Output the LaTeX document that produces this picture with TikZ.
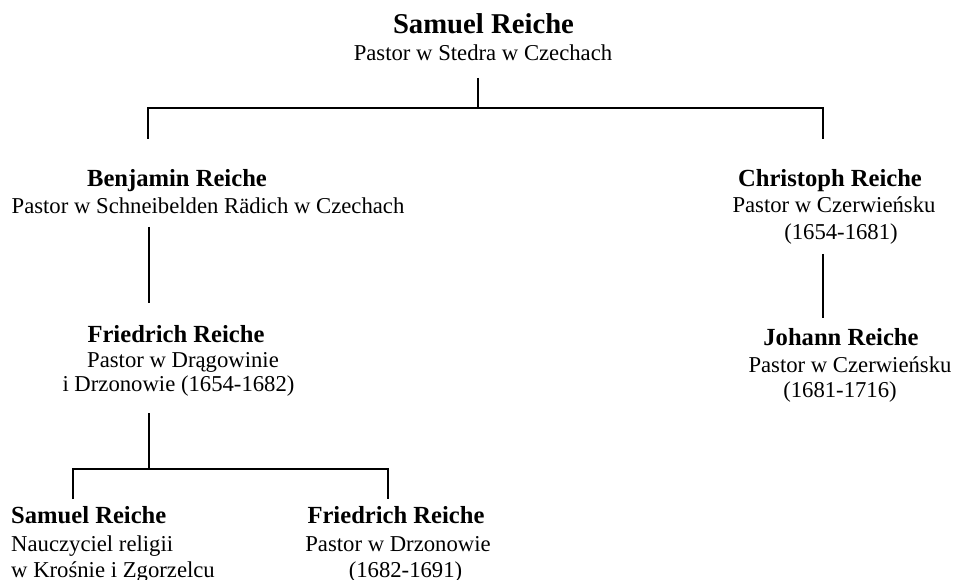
\documentclass[tikz,border=0pt]{standalone}
\usepackage{fontspec}
\setmainfont{Liberation Serif}
\begin{document}
\begin{tikzpicture}[x=1pt,y=-1pt,
  topname/.style={font=\fontsize{28.7}{32}\selectfont\bfseries, inner sep=0pt, anchor=base},
  pname/.style={font=\fontsize{24.6}{28}\selectfont\bfseries, inner sep=0pt, anchor=base},
  psub/.style={font=\fontsize{22.7}{26}\selectfont, inner sep=0pt, anchor=base},
  lname/.style={pname, anchor=base west},
  lsub/.style={psub, anchor=base west},
  conn/.style={line width=1.3pt, black}]
\useasboundingbox (0,0) rectangle (956,580);
% top
\node[topname] (sr) at (483.5,34) {Samuel Reiche};
\node[psub] (srs) at (483,61) {Pastor w Stedra w Czechach};
% Benjamin
\node[pname] (br) at (177,187) {Benjamin Reiche};
\node[psub] (brs) at (208,214) {Pastor w Schneibelden Rädich w Czechach};
% Friedrich 1
\node[pname] (fr) at (176,342) {Friedrich Reiche};
\node[psub] (frs1) at (183,367) {Pastor w Drągowinie};
\node[psub] (frs2) at (178.5,391) {i Drzonowie (1654-1682)};
% Samuel 2
\node[lname] (s2) at (11,523) {Samuel Reiche};
\node[lsub] (s2a) at (11,551) {Nauczyciel religii};
\node[lsub] (s2b) at (11,577) {w Krośnie i Zgorzelcu};
% Friedrich 2
\node[pname] (f2) at (396,523) {Friedrich Reiche};
\node[psub] (f2a) at (398,551) {Pastor w Drzonowie};
\node[psub] (f2b) at (405.5,577) {(1682-1691)};
% Christoph
\node[pname] (cr) at (830,187) {Christoph Reiche};
\node[psub] (cra) at (834,213) {Pastor w Czerwieńsku};
\node[psub] (crb) at (841,240) {(1654-1681)};
% Johann
\node[pname] (jr) at (841,345) {Johann Reiche};
\node[psub] (jra) at (850,372) {Pastor w Czerwieńsku};
\node[psub] (jrb) at (840,397) {(1681-1716)};
% connector points
\coordinate (ta) at (478,78);
\coordinate (tb) at (478,108);
\coordinate (hl) at (148,108);
\coordinate (hr) at (823,108);
\coordinate (dl) at (148,139);
\coordinate (dr) at (823,139);
\coordinate (ba) at (149,227);
\coordinate (bb) at (149,303);
\coordinate (fa) at (149,413);
\coordinate (fb) at (149,469);
\coordinate (kl) at (73,469);
\coordinate (kr) at (388,469);
\coordinate (kld) at (73,499);
\coordinate (krd) at (388,499);
\coordinate (ca) at (823,254);
\coordinate (cb) at (823,318);
\draw[conn] (ta) -- (tb);
\draw[conn] (dl) -- (hl) -- (hr) -- (dr);
\draw[conn] (ba) -- (bb);
\draw[conn] (fa) -- (fb);
\draw[conn] (kld) -- (kl) -- (kr) -- (krd);
\draw[conn] (ca) -- (cb);
\end{tikzpicture}
\end{document}
